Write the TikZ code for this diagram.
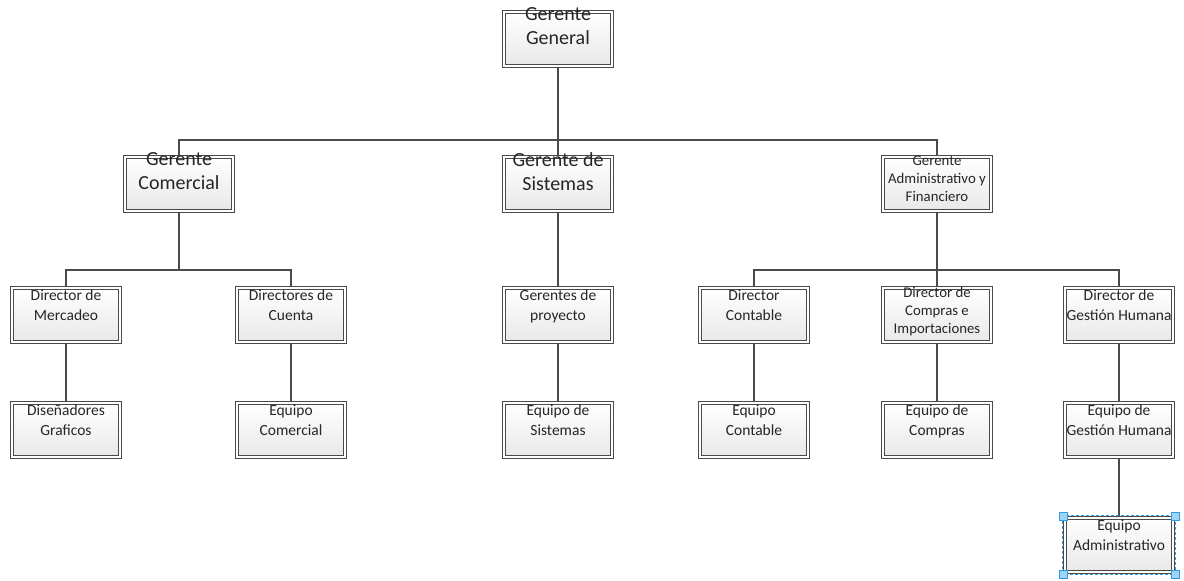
\documentclass[tikz,border=0pt]{standalone}
\usepackage{fontspec}
\setmainfont{Carlito}
\usetikzlibrary{shadows}
\definecolor{edge}{HTML}{4A4A4A}
\definecolor{ink}{HTML}{262626}
\definecolor{selblue}{HTML}{2E9BE6}
\definecolor{handle}{HTML}{9FD4F7}
\tikzset{
  box/.style={rectangle, minimum width=108pt, minimum height=54pt, inner sep=0pt,
    draw=edge, line width=1.3pt, double=white, double distance=1.5pt,
    top color=white, bottom color=gray!18,
    drop shadow={shadow xshift=2pt, shadow yshift=-2pt, opacity=0.3, fill=gray}},
  lbl/.style={anchor=north, inner sep=0pt, align=center, text=ink},
  big/.style={lbl, font=\fontsize{20}{24}\selectfont, yshift=4pt},
  small/.style={lbl, font=\fontsize{15.5}{19.5}\selectfont, yshift=-2.5pt},
  tiny/.style={lbl, font=\fontsize{14.8}{18}\selectfont, yshift=0.5pt},
  link/.style={draw=edge, line width=1.4pt},
  handlebox/.style={rectangle, minimum size=8pt, inner sep=0pt, fill=handle, draw=selblue, line width=0.6pt}
}
\begin{document}
\begin{tikzpicture}[x=1pt, y=-1pt]
\useasboundingbox (0,0) rectangle (1184,581);
% boxes
\node[box] (gg)  at (558,39)  {};
\node[box] (gc)  at (179,184) {};
\node[box] (gs)  at (558,184) {};
\node[box] (ga)  at (937,184) {};
\node[box] (dm)  at (66,315)  {};
\node[box] (dcu) at (291,315) {};
\node[box] (gp)  at (558,315) {};
\node[box] (dco) at (754,315) {};
\node[box] (dci) at (937,315) {};
\node[box] (dgh) at (1119,315) {};
\node[box] (dg)  at (66,430)  {};
\node[box] (ec)  at (291,430) {};
\node[box] (es)  at (558,430) {};
\node[box] (eco) at (754,430) {};
\node[box] (ecp) at (937,430) {};
\node[box] (egh) at (1119,430) {};
\node[box] (ead) at (1119,545) {};
% bus points
\coordinate (b1) at (558,140);
\coordinate (b2) at (179,270);
\coordinate (b3) at (937,270);
% connectors
\path[link] (gg.south) -- (gs.north);
\path[link] (gc.north) |- (b1) -| (ga.north);
\path[link] (gc.south) -- (b2);
\path[link] (dm.north) |- (b2) -| (dcu.north);
\path[link] (ga.south) -- (dci.north);
\path[link] (dco.north) |- (b3) -| (dgh.north);
\path[link] (gs.south) -- (gp.north);
\path[link] (dm.south) -- (dg.north);
\path[link] (dcu.south) -- (ec.north);
\path[link] (gp.south) -- (es.north);
\path[link] (dco.south) -- (eco.north);
\path[link] (dci.south) -- (ecp.north);
\path[link] (dgh.south) -- (egh.north);
\path[link] (egh.south) -- (ead.north);
% labels
\node[big]   at (gg.north)  {Gerente\\General};
\node[big]   at (gc.north)  {Gerente\\Comercial};
\node[big]   at (gs.north)  {Gerente de\\Sistemas};
\node[tiny]  at (ga.north)  {Gerente\\Administrativo y\\Financiero};
\node[small] at (dm.north)  {Director de\\Mercadeo};
\node[small] at (dcu.north) {Directores de\\Cuenta};
\node[small] at (gp.north)  {Gerentes de\\proyecto};
\node[small] at (dco.north) {Director\\Contable};
\node[tiny]  at (dci.north) {Director de\\Compras e\\Importaciones};
\node[small] at (dgh.north) {Director de\\Gestión Humana};
\node[small] at (dg.north)  {Diseñadores\\Graficos};
\node[small] at (ec.north)  {Equipo\\Comercial};
\node[small] at (es.north)  {Equipo de\\Sistemas};
\node[small] at (eco.north) {Equipo\\Contable};
\node[small] at (ecp.north) {Equipo de\\Compras};
\node[small] at (egh.north) {Equipo de\\Gestión Humana};
\node[small] at (ead.north) {Equipo\\Administrativo};
% selection frame
\draw[selblue, line width=0.9pt, dash pattern=on 3pt off 2pt]
  ([xshift=-1.5pt,yshift=1.5pt]ead.north west) rectangle ([xshift=1.5pt,yshift=-1.5pt]ead.south east);
\node[handlebox] (h1) at ([xshift=-1.5pt,yshift=1.5pt]ead.north west) {};
\node[handlebox] (h2) at ([xshift=1.5pt,yshift=1.5pt]ead.north east) {};
\node[handlebox] (h3) at ([xshift=-1.5pt,yshift=-1.5pt]ead.south west) {};
\node[handlebox] (h4) at ([xshift=1.5pt,yshift=-1.5pt]ead.south east) {};
\end{tikzpicture}
\end{document}
